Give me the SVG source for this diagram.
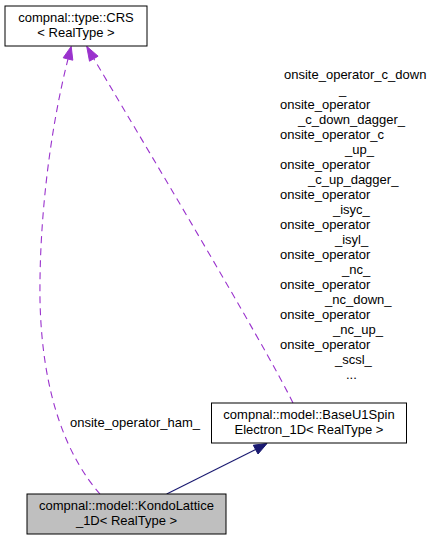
<svg xmlns="http://www.w3.org/2000/svg" width="431" height="540" viewBox="0 0 431 540">
<style>
text{font-family:"Liberation Sans",Arial,sans-serif;font-size:13px;fill:#000}
.c{text-anchor:middle}
.box{fill:#fff;stroke:#000;stroke-width:1}
.cur{fill:#bfbfbf;stroke:#000;stroke-width:1}
.dash{fill:none;stroke:#9a32cd;stroke-width:1.1;stroke-dasharray:7,5}
.solid{fill:none;stroke:#191970;stroke-width:1.1}
.ah1{fill:#9a32cd;stroke:#9a32cd}
.ah2{fill:#191970;stroke:#191970}
</style>
<rect width="431" height="540" fill="#fff"/>
<g id="edges">
<path class="dash" d="M100,494 C70,460 42,400 40,300 C39,220 50,130 68,59"/>
<polygon class="ah1" points="71.2,46.4 72.8,60.2 63.2,57.8"/>
<path class="dash" d="M293,403 C265,345 130,120 93.8,58.7"/>
<polygon class="ah1" points="86.7,46.3 98.1,56.2 89.5,61.2"/>
<path class="solid" d="M166.7,494 L255.6,449.6"/>
<polygon class="ah2" points="267,443.5 258,454 253.3,445.2"/>
<text x="135" y="427" class="c">onsite_operator_ham_</text>
<g id="label2">
<text x="284" y="79">onsite_operator_c_down</text>
<text x="339" y="94">_</text>
<text x="280" y="109">onsite_operator</text>
<text x="298" y="124">_c_down_dagger_</text>
<text x="280" y="139">onsite_operator_c</text>
<text x="345" y="154">_up_</text>
<text x="280" y="169">onsite_operator</text>
<text x="308" y="184">_c_up_dagger_</text>
<text x="280" y="199">onsite_operator</text>
<text x="333" y="214">_isyc_</text>
<text x="280" y="229">onsite_operator</text>
<text x="335" y="244">_isyl_</text>
<text x="280" y="259">onsite_operator</text>
<text x="342" y="274">_nc_</text>
<text x="280" y="289">onsite_operator</text>
<text x="325" y="304">_nc_down_</text>
<text x="280" y="319">onsite_operator</text>
<text x="333" y="334">_nc_up_</text>
<text x="280" y="349">onsite_operator</text>
<text x="335" y="364">_scsl_</text>
<text x="346" y="379">...</text>
</g>
</g>
<g id="node_crs">
<rect class="box" x="5" y="6" width="142" height="40"/>
<text x="76" y="21.5" class="c">compnal::type::CRS</text>
<text x="76" y="36.5" class="c">&lt; RealType &gt;</text>
</g>
<g id="node_base">
<rect class="box" x="211.5" y="403" width="195" height="40"/>
<text x="309" y="418.5" class="c">compnal::model::BaseU1Spin</text>
<text x="309" y="433.5" class="c">Electron_1D&lt; RealType &gt;</text>
</g>
<g id="node_kondo">
<rect class="cur" x="27" y="494" width="199" height="40"/>
<text x="126.5" y="509.5" class="c">compnal::model::KondoLattice</text>
<text x="126.5" y="524.5" class="c">_1D&lt; RealType &gt;</text>
</g>
</svg>
